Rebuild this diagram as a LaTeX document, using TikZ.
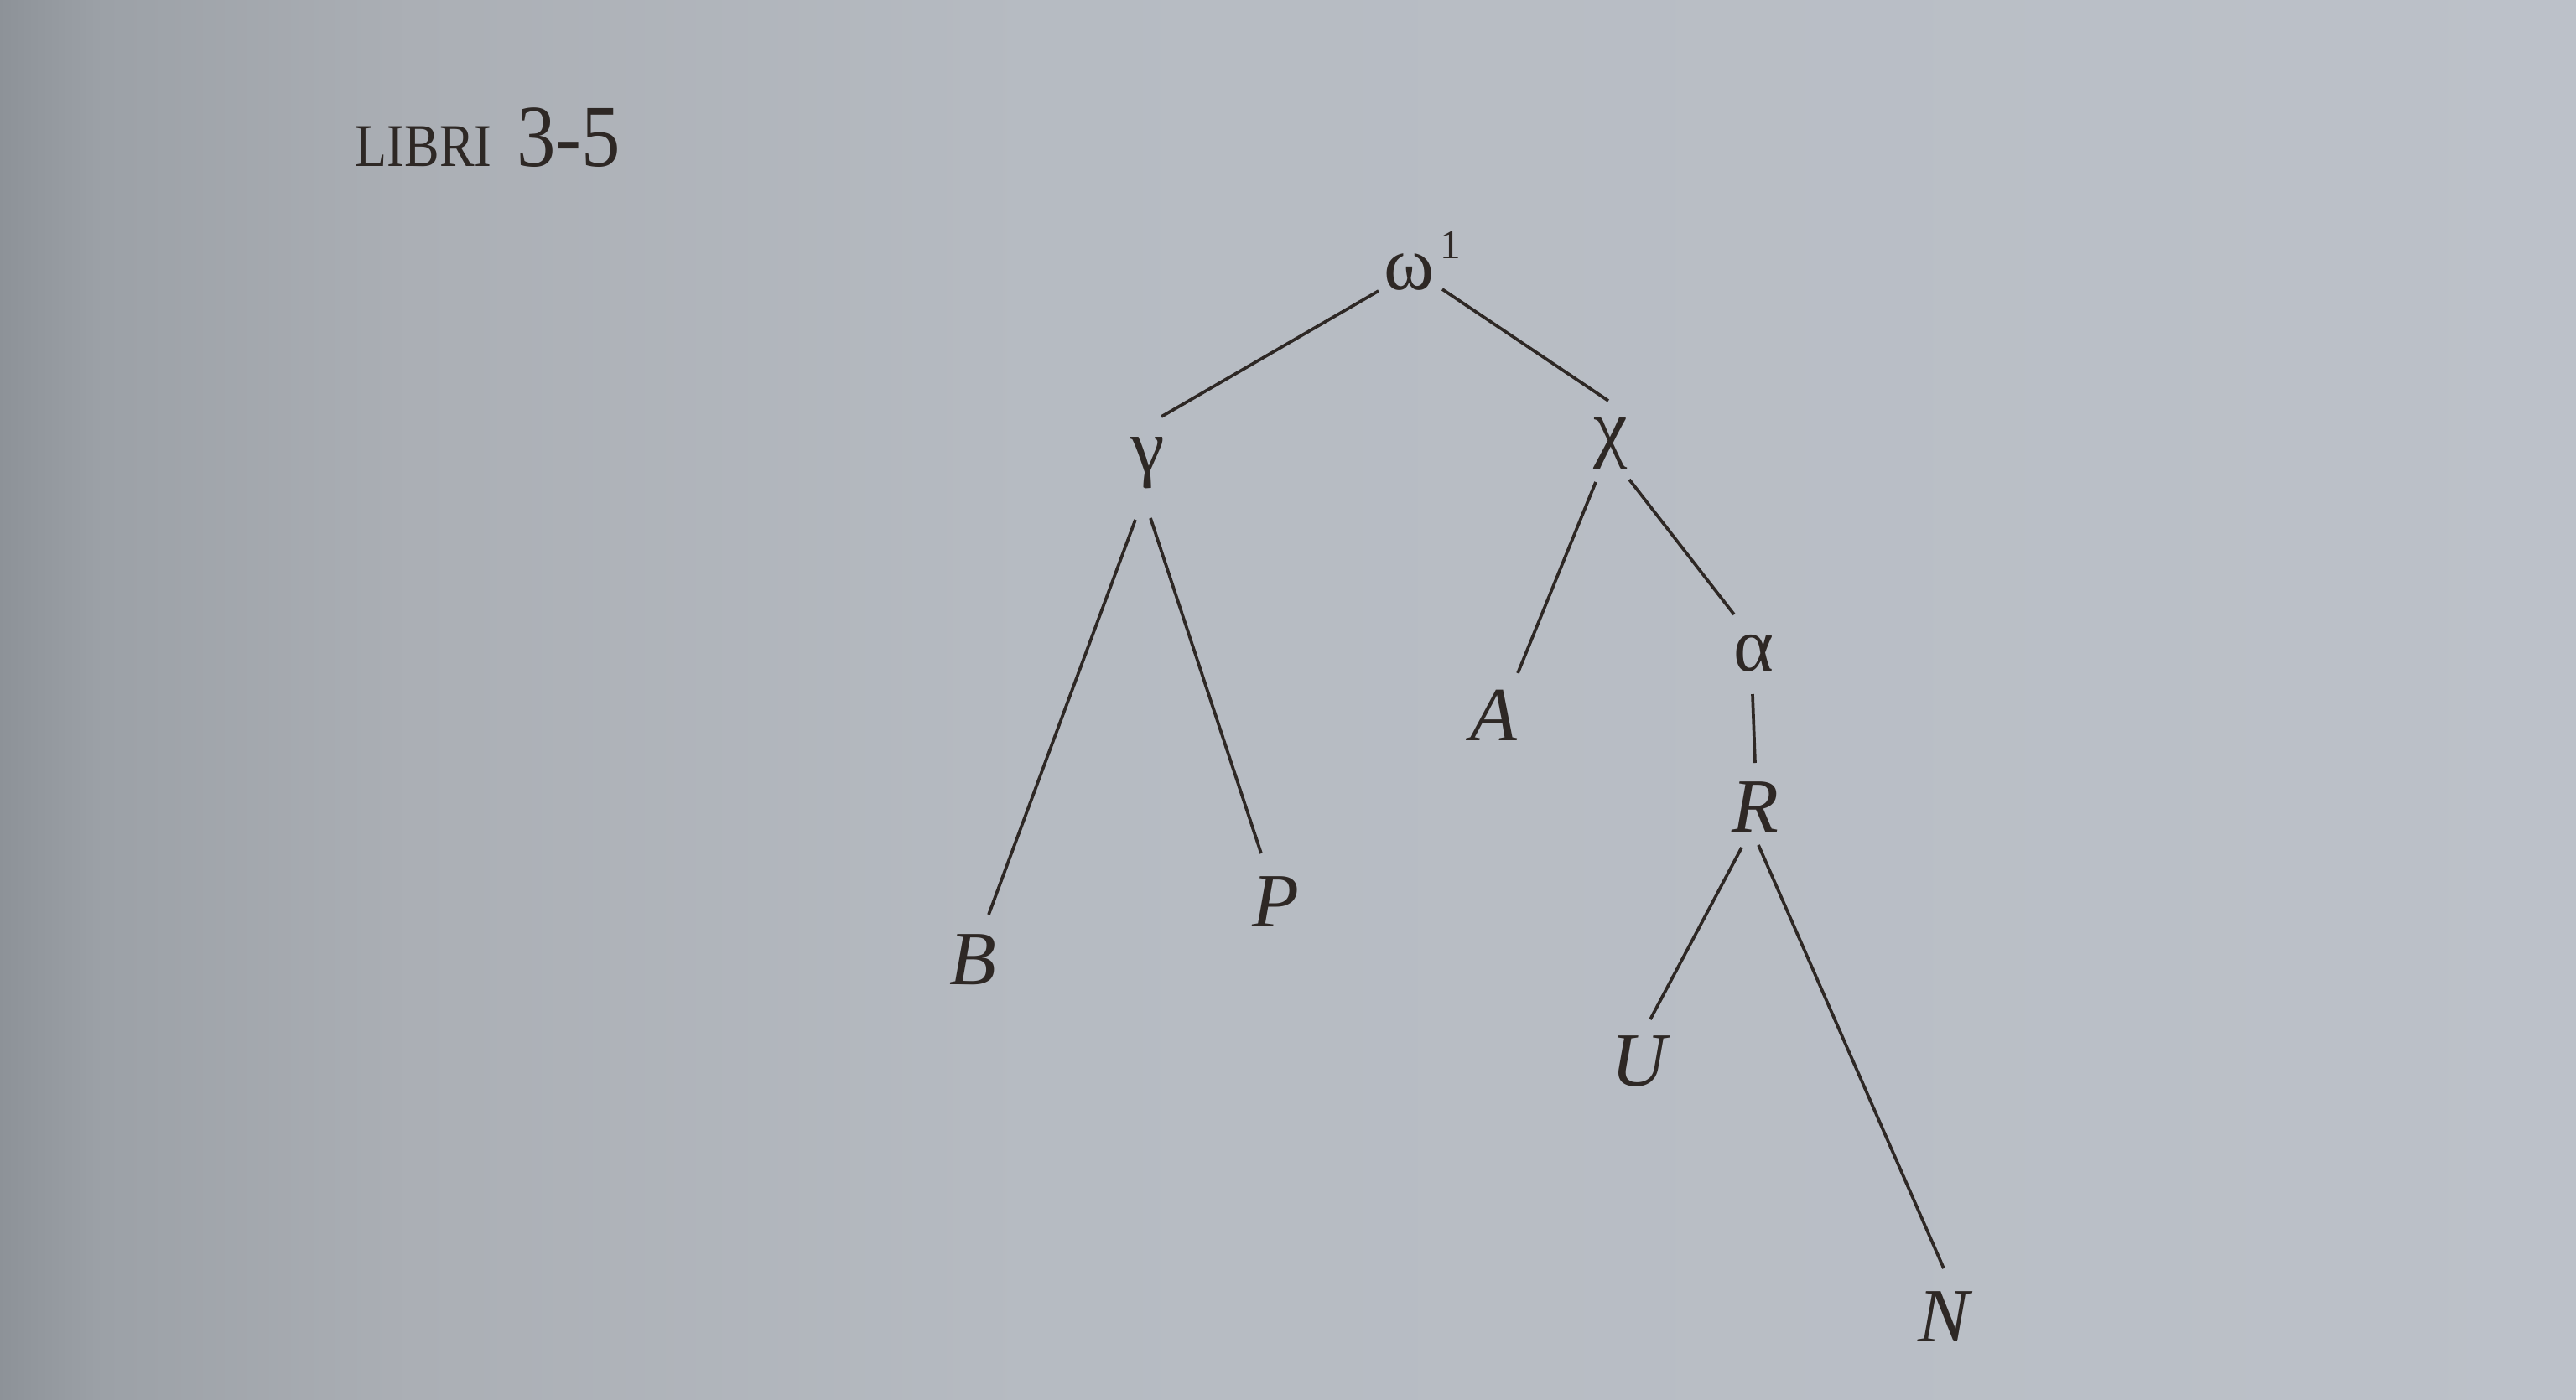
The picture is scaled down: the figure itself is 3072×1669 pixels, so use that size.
\documentclass[tikz,border=0pt]{standalone}
\usepackage{fontspec}
\setmainfont{Liberation Serif}
\definecolor{ink}{HTML}{2E2825}
\definecolor{pc0}{HTML}{8D9298}
\definecolor{pc1}{HTML}{9CA1A7}
\definecolor{pc2}{HTML}{ABAFB5}
\definecolor{pc3}{HTML}{B6BBC2}
\definecolor{pc4}{HTML}{BCC1C9}
\pgfdeclarehorizontalshading{paper}{100bp}{color(0bp)=(pc0); color(25bp)=(pc0); color(27bp)=(pc1); color(33bp)=(pc2); color(45bp)=(pc3); color(75bp)=(pc4); color(100bp)=(pc4)}
\begin{document}
\begin{tikzpicture}[x=0.01cm,y=-0.01cm,
  lbl/.style={anchor=base, inner sep=0pt, outer sep=0pt, text=ink, font=\fontsize{26}{30}\selectfont},
  edge/.style={draw=ink, line width=1.05pt}]
\useasboundingbox (0,0) rectangle (3072,1669);
\shade[shading=paper] (0,0) rectangle (3072,1669);

% title
\node[anchor=base west, inner sep=0pt, text=ink, font=\fontsize{20.6}{24}\selectfont] (title) at (423,198)
  {\scalebox{0.86}[1]{LIBRI}\hspace{8.5pt}\scalebox{0.88}[1]{\fontsize{30}{30}\selectfont 3-5}};

% tree labels
\node[lbl, anchor=base west] (w) at (1650,345) {ω\kern2pt\raisebox{10.5pt}{\fontsize{14}{14}\selectfont 1}};
\node[lbl] (g) at (1369,563) {γ};
\node[lbl] (c) at (1921,540) {χ};
\node[lbl] (A) at (1782,883) {\textit{A}};
\node[lbl] (a) at (2091,800) {α};
\node[lbl] (R) at (2093,992) {\textit{R}};
\node[lbl] (B) at (1160,1174) {\textit{B}};
\node[lbl] (P) at (1521,1105) {\textit{P}};
\node[lbl] (U) at (1957,1295) {\textit{U}};
\node[lbl] (N) at (2320,1600) {\textit{N}};

% connectors
\draw[edge] ([shift={(-6,2)}]w.base west) -- ([shift={(16,-66)}]g.base);
\draw[edge] ([shift={(70,0)}]w.base west) -- ([shift={(-3,-62)}]c.base);
\draw[edge] ([shift={(-15,57)}]g.base) -- ([shift={(19,-83)}]B.base);
\draw[edge] ([shift={(3,55)}]g.base) -- ([shift={(-17,-87)}]P.base);
\draw[edge] ([shift={(-18,35)}]c.base) -- ([shift={(28,-80)}]A.base);
\draw[edge] ([shift={(22,32)}]c.base) -- ([shift={(-23,-67)}]a.base);
\draw[edge] ([shift={(-1,28)}]a.base) -- ([shift={(0,-82)}]R.base);
\draw[edge] ([shift={(-16,19)}]R.base) -- ([shift={(11,-79)}]U.base);
\draw[edge] ([shift={(4,16)}]R.base) -- ([shift={(-2,-87)}]N.base);
\end{tikzpicture}
\end{document}
